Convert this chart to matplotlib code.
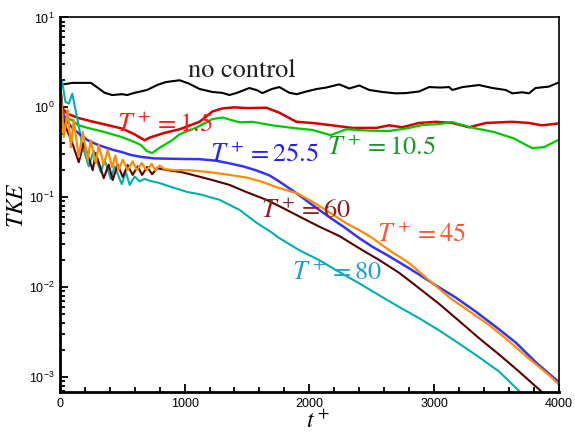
import numpy as np
import matplotlib
matplotlib.use('Agg')
import matplotlib.pyplot as plt
from matplotlib.ticker import MultipleLocator, LogLocator, NullFormatter

plt.rcParams['font.family'] = 'Liberation Sans'
plt.rcParams['mathtext.fontset'] = 'stix'

# no control
t_nc = [0, 100, 250, 360, 420, 500, 540, 600, 700, 780, 850, 960, 1030, 1120, 1224, 1300, 1360, 1420,
        1520, 1580, 1624, 1700, 1760, 1840, 1900, 1976, 2060, 2136, 2240, 2320, 2400, 2480, 2587, 2693,
        2773, 2880, 2960, 3050, 3120, 3147, 3227, 3360, 3467, 3573, 3627, 3707, 3760, 3813, 3920, 3990]
k_nc = [1.77, 1.87, 1.87, 1.45, 1.37, 1.40, 1.37, 1.45, 1.56, 1.77, 1.91, 2.0, 1.85, 1.60, 1.48, 1.45, 1.37, 1.45,
        1.64, 1.55, 1.44, 1.60, 1.68, 1.45, 1.40, 1.50, 1.60, 1.66, 1.80, 1.62, 1.75, 1.56, 1.48, 1.43,
        1.44, 1.50, 1.68, 1.66, 1.68, 1.56, 1.68, 1.77, 1.64, 1.56, 1.43, 1.47, 1.43, 1.64, 1.70, 1.87]

# T+ = 1.5
t_15 = [0, 15, 60, 150, 250, 370, 500, 600, 680, 720, 840, 960, 1120, 1224, 1300, 1400, 1500, 1656, 1760,
        1896, 2024, 2184, 2344, 2536, 2640, 2744, 2880, 3016, 3144, 3280, 3416, 3624, 3760, 3864, 3990]
k_15 = [2.0, 1.0, 0.85, 0.76, 0.70, 0.64, 0.58, 0.50, 0.43, 0.46, 0.52, 0.57, 0.69, 0.90, 0.97, 1.0, 0.98, 0.99, 0.87,
        0.69, 0.67, 0.63, 0.59, 0.59, 0.63, 0.60, 0.67, 0.69, 0.67, 0.60, 0.67, 0.69, 0.67, 0.63, 0.66]

# T+ = 10.5
t_105 = [0, 15, 100, 144, 224, 360, 496, 600, 650, 700, 740, 800, 900, 960, 1100, 1224, 1304, 1440, 1544,
         1704, 1864, 2024, 2170, 2296, 2480, 2640, 2800, 2904, 3040, 3144, 3280, 3480, 3640, 3784, 3880, 3990]
k_105 = [2.0, 0.78, 0.72, 0.635, 0.59, 0.53, 0.467, 0.41, 0.38, 0.325, 0.31, 0.355, 0.43, 0.50, 0.60, 0.74, 0.77, 0.68, 0.69,
         0.63, 0.59, 0.56, 0.49, 0.57, 0.55, 0.545, 0.59, 0.635, 0.652, 0.686, 0.604, 0.531, 0.45, 0.352, 0.36, 0.43]

# T+ = 25.5
t_255 = [0, 16, 50, 96, 160, 224, 290, 360, 430, 496, 570, 656, 760, 1000, 1120, 1250, 1360, 1470, 1573, 1680,
         1760, 1896, 2024, 2160, 2293, 2400, 2507, 2640, 2744, 2880, 3016, 3176, 3336, 3496, 3656, 3816, 3990]
k_255 = [1.9, 0.95, 0.72, 0.60, 0.50, 0.43, 0.39, 0.36, 0.335, 0.318, 0.295, 0.28, 0.27, 0.266, 0.265, 0.255, 0.238, 0.22, 0.199, 0.175,
         0.149, 0.111, 0.082, 0.060, 0.045, 0.035, 0.028, 0.022, 0.018, 0.0138, 0.0104, 0.0076, 0.0053, 0.0036, 0.0024, 0.00145, 0.0009]

# T+ = 45
t_45 = [0, 32, 64, 88, 112, 152, 184, 224, 248, 288, 312, 352, 384, 420, 445, 470, 504, 544, 584, 616, 656, 696,
        736, 765, 800, 840, 920, 1024, 1200, 1360, 1500, 1624, 1760, 1900, 2024, 2160, 2293, 2400, 2507, 2640,
        2800, 2960, 3120, 3280, 3440, 3600, 3760, 3920, 3990]
k_45 = [2.1, 0.47, 0.93, 0.36, 0.72, 0.28, 0.53, 0.26, 0.43, 0.24, 0.38, 0.23, 0.335, 0.215, 0.29, 0.20, 0.26, 0.20, 0.25, 0.20, 0.24, 0.20,
        0.235, 0.20, 0.225, 0.205, 0.20, 0.20, 0.19, 0.177, 0.165, 0.148, 0.126, 0.111, 0.089, 0.068, 0.0515, 0.043, 0.035, 0.0257,
        0.0185, 0.0119, 0.0077, 0.0054, 0.0038, 0.0025, 0.0016, 0.00105, 0.00085]

# T+ = 60
t_60 = [0, 20, 48, 100, 152, 192, 264, 288, 352, 392, 424, 464, 504, 544, 584, 624, 660, 700, 740, 780, 864,
        976, 1064, 1224, 1360, 1496, 1656, 1790, 1950, 2080, 2240, 2400, 2560, 2720, 2880, 3040, 3200, 3360,
        3520, 3680, 3880]
k_60 = [2.1, 1.0, 0.6, 0.40, 0.245, 0.40, 0.20, 0.31, 0.163, 0.23, 0.155, 0.23, 0.168, 0.228, 0.177, 0.22, 0.177, 0.217, 0.18, 0.21, 0.20,
        0.19, 0.177, 0.155, 0.137, 0.114, 0.0935, 0.0756, 0.058, 0.047, 0.037, 0.027, 0.020, 0.0144, 0.0097, 0.0065, 0.0042, 0.0027,
        0.00178, 0.00115, 0.00065]

# T+ = 80
t_80 = [0, 20, 45, 72, 100, 140, 180, 232, 272, 328, 360, 408, 440, 496, 530, 560, 600, 640, 680, 720, 790, 900,
        1024, 1120, 1280, 1440, 1576, 1704, 1760, 1920, 2080, 2240, 2400, 2560, 2720, 2880, 3040, 3200, 3360,
        3520, 3704]
k_80 = [2.1, 1.9, 1.15, 1.1, 1.42, 0.75, 0.38, 0.22, 0.33, 0.19, 0.26, 0.16, 0.22, 0.14, 0.19, 0.137, 0.17, 0.15, 0.16, 0.152, 0.145, 0.129,
        0.114, 0.108, 0.0935, 0.0723, 0.052, 0.040, 0.035, 0.0257, 0.0199, 0.0147, 0.011, 0.0081, 0.006, 0.0045, 0.0033, 0.00235, 0.00166,
        0.00115, 0.00065]

fig = plt.figure(figsize=(5.75, 4.34), dpi=100)
ax = fig.add_axes([0.104, 0.0968, 0.868, 0.863])

ax.plot(t_nc, k_nc, color='#000000', lw=1.5)
ax.plot(t_15, k_15, color='#d40000', lw=1.8)
ax.plot(t_105, k_105, color='#00c800', lw=1.6)
ax.plot(t_80, k_80, color='#00b0b0', lw=1.5)
ax.plot(t_60, k_60, color='#5a0000', lw=1.5)
ax.plot(t_255, k_255, color='#3333ff', lw=1.8)
ax.plot(t_45, k_45, color='#ff8c00', lw=1.6)

lab = dict(fontsize=19, ha='left', va='baseline', math_fontfamily='stix')
ax.text(1024, 2.19, 'no control', color='#222222', family='STIXGeneral', fontsize=19, ha='left', va='baseline')
ax.text(456, 0.53, r'$T^+=1.5$', color='#ff1a1a', **lab)
ax.text(2144, 0.294, r'$T^+=10.5$', color='#1a9a2a', **lab)
ax.text(1200, 0.246, r'$T^+=25.5$', color='#2020ff', **lab)
ax.text(1616, 0.0585, r'$T^+=60$', color='#8b2323', **lab)
ax.text(2544, 0.0316, r'$T^+=45$', color='#ff5533', **lab)
ax.text(1864, 0.0119, r'$T^+=80$', color='#20a0d0', **lab)

ax.set_yscale('log')
ax.set_xlim(0, 4000)
ax.set_ylim(6.8e-4, 10)
ax.xaxis.set_major_locator(MultipleLocator(1000))
ax.xaxis.set_minor_locator(MultipleLocator(200))
ax.yaxis.set_major_locator(LogLocator(base=10, numticks=10))
ax.yaxis.set_minor_locator(LogLocator(base=10, subs=np.arange(2, 10), numticks=10))
ax.yaxis.set_minor_formatter(NullFormatter())
ax.tick_params(which='both', direction='in', top=False, right=False, labelsize=9, width=1.3)
ax.tick_params(which='major', length=6, pad=4)
ax.tick_params(which='minor', length=3.5)

for s in ['left', 'bottom']:
    ax.spines[s].set_linewidth(2.0)
for s in ['top', 'right']:
    ax.spines[s].set_linewidth(1.2)

ax.set_xlabel(r'$t^+$', fontsize=17, math_fontfamily='stix')
ax.xaxis.set_label_coords(0.517, -0.05)
ax.set_ylabel(r'$TKE$', fontsize=17, math_fontfamily='stix')
ax.yaxis.set_label_coords(-0.063, 0.5)

fig.savefig('out.png', dpi=100)
